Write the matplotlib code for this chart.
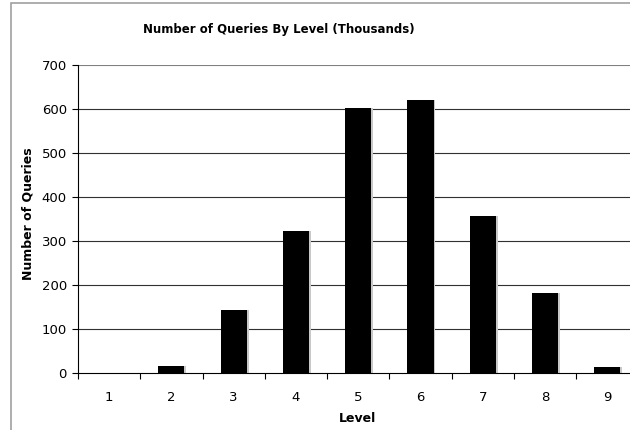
import matplotlib
matplotlib.use("Agg")
import matplotlib.pyplot as plt
from matplotlib.patches import Rectangle
import numpy as np

# data (thousands of queries per level)
levels = [1, 2, 3, 4, 5, 6, 7, 8, 9]
queries = [0.5, 16, 143, 322, 602, 620, 356, 181, 14]
yticks = [0, 100, 200, 300, 400, 500, 600, 700]

W, H = 630, 430
fig = plt.figure(figsize=(W / 100, H / 100), dpi=100)
fig.patch.set_facecolor("white")

# gray chart-area frame (cropped on the right and bottom)
fig.patches.append(Rectangle((11 / W, -0.1), 1.2, (H - 3) / H + 0.1,
                             transform=fig.transFigure, fill=False,
                             edgecolor="#a0a0a0", linewidth=1.2))

left, right = 78, 638.5
bottom, top = 373, 65
ax = fig.add_axes([left / W, (H - bottom) / H, (right - left) / W, (bottom - top) / H])

x = np.array(levels)
# light shadow behind bars
ax.bar(x + 0.03, queries, width=0.42, color="#c8c8c8", zorder=2)
ax.bar(x, queries, width=0.42, color="black", zorder=3)

ax.set_xlim(0.5, 9.5)
ax.set_ylim(0, 700)
ax.set_yticks(yticks)
ax.set_yticklabels([str(v) for v in yticks], fontsize=9.5)
for v in yticks[1:]:
    ax.axhline(v, color="#303030" if v < 700 else "#808080", linewidth=0.8, zorder=1)

ax.set_xticks(x)
ax.set_xticklabels([str(v) for v in levels], fontsize=9.5)
ax.set_xticks(np.arange(0.5, 10, 1), minor=True)
ax.tick_params(axis="x", which="major", length=0, pad=13)
ax.tick_params(axis="x", which="minor", length=4, direction="out", width=0.8)
ax.tick_params(axis="y", length=4, direction="out", width=0.8, pad=4)

for s in ["top", "right"]:
    ax.spines[s].set_visible(False)
ax.spines["left"].set_linewidth(0.8)
ax.spines["bottom"].set_linewidth(0.8)

fig.text(279 / W, 1 - 30 / H, "Number of Queries By Level (Thousands)",
         ha="center", va="center", fontsize=8.5, fontweight="bold")
fig.text(28 / W, 1 - 214 / H, "Number of Queries", rotation=90,
         ha="center", va="center", fontsize=9, fontweight="bold")
fig.text(357 / W, 1 - 418 / H, "Level",
         ha="center", va="center", fontsize=9, fontweight="bold")

fig.savefig("out.png", dpi=100)
